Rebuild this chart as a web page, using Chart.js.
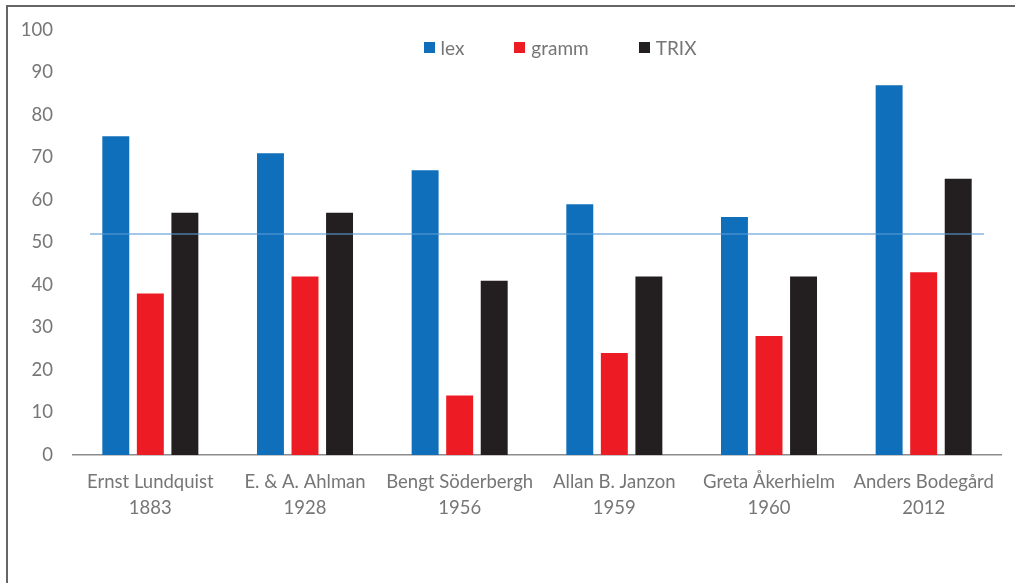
<!DOCTYPE html>
<html>
<head>
<meta charset="utf-8">
<script src="https://cdn.jsdelivr.net/npm/chart.js@4.4.1/dist/chart.umd.min.js"></script>
<style>
    html, body { margin: 0; padding: 0; background: #fff; overflow: hidden; width: 1015px; height: 583px; }
    .frame { position: absolute; left: 6px; top: 5px; width: 1104px; height: 600px; border-left: 2px solid #666; border-top: 2px solid #666; }
    #chart { position: absolute; left: 0; top: 0; }
    #legend { position: absolute; top: 29px; left: 0; width: 1104px; display: flex; justify-content: center; font-family: Lato, sans-serif; font-size: 19px; color: #767676; }
    .item { display: flex; align-items: center; margin: 0 25px; }
    .box { width: 11px; height: 11px; margin-right: 6px; }
</style>
</head>
<body>
<div class="frame">
    <canvas id="chart" width="1104" height="576"></canvas>
    <div id="legend"></div>
</div>
<script>
const categories = [
    ["Ernst Lundquist", "1883"],
    ["E. & A. Ahlman", "1928"],
    ["Bengt Söderbergh", "1956"],
    ["Allan B. Janzon", "1959"],
    ["Greta Åkerhielm", "1960"],
    ["Anders Bodegård", "2012"]
];
const lexValues = [75, 71, 67, 59, 56, 87];
const grammValues = [38, 42, 14, 24, 28, 43];
const trixValues = [57, 57, 41, 42, 42, 65];
const refLine = 52;

const textColor = "#767676";

// light blue reference line drawn over the bars
const refLinePlugin = {
    id: "refLine",
    afterDatasetsDraw(chart) {
        const ctx = chart.ctx;
        const area = chart.chartArea;
        const y = chart.scales.y.getPixelForValue(refLine);
        ctx.save();
        ctx.strokeStyle = "rgba(91, 155, 213, 0.55)";
        ctx.lineWidth = 2;
        ctx.beginPath();
        ctx.moveTo(area.left + 17, y);
        ctx.lineTo(area.right - 17, y);
        ctx.stroke();
        ctx.restore();
    }
};

const chart = new Chart(document.getElementById("chart").getContext("2d"), {
    type: "bar",
    data: {
        labels: categories,
        datasets: [
            { label: "lex", data: lexValues, backgroundColor: "#0f6fbb" },
            { label: "gramm", data: grammValues, backgroundColor: "#ed1c24" },
            { label: "TRIX", data: trixValues, backgroundColor: "#231f20" }
        ]
    },
    options: {
        responsive: false,
        animation: false,
        categoryPercentage: 0.67,
        barPercentage: 0.78,
        layout: { padding: { left: 0, top: 23, right: 111, bottom: 0 } },
        plugins: {
            legend: { display: false },
            tooltip: { enabled: false }
        },
        scales: {
            x: {
                grid: { display: true, drawOnChartArea: false, drawTicks: false },
                border: { display: true, color: "#8c8c8c", width: 1.5 },
                ticks: {
                    color: textColor,
                    padding: 14,
                    maxRotation: 0,
                    autoSkip: false,
                    font: { family: "Lato", size: 18.5, lineHeight: 1.42 }
                },
                afterFit: function(scale) { scale.height = 128; }
            },
            y: {
                min: 0,
                max: 100,
                grid: { display: false, drawTicks: false },
                border: { display: false },
                ticks: {
                    stepSize: 10,
                    color: textColor,
                    padding: 20,
                    font: { family: "Lato", size: 18.5 }
                },
                afterFit: function(scale) {
                    scale.width = 65;
                    scale.paddingTop = 0;
                    scale.paddingBottom = 0;
                }
            }
        }
    },
    plugins: [refLinePlugin]
});

// html legend placed inside the plot, like the original
const legendEl = document.getElementById("legend");
chart.data.datasets.forEach(ds => {
    const item = document.createElement("div");
    item.className = "item";
    item.innerHTML = `<span class="box" style="background:${ds.backgroundColor}"></span><span>${ds.label}</span>`;
    legendEl.appendChild(item);
});
</script>
</body>
</html>
